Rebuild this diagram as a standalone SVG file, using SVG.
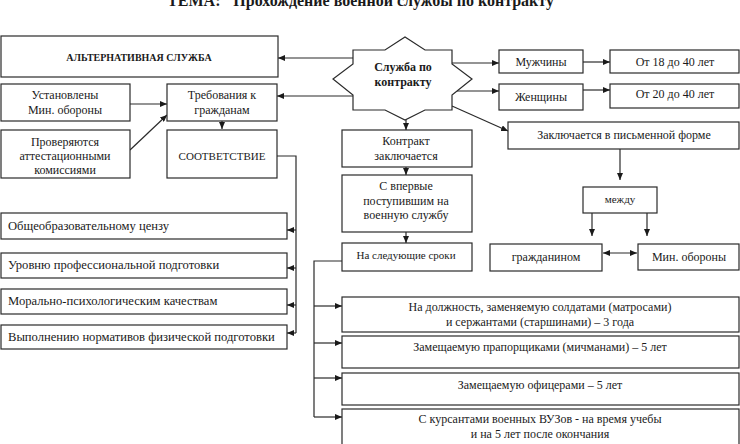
<svg xmlns="http://www.w3.org/2000/svg" width="740" height="444" viewBox="0 0 740 444">
<style>
.b{fill:#fff;stroke:#2a2a2a;stroke-width:1.2}
.t{font-family:"Liberation Serif","Times New Roman",serif;font-size:12px;fill:#1a1a1a;text-anchor:middle}
.l{text-anchor:start;font-size:12.6px}
.s{font-size:11px}
.bd{font-weight:bold}
.c{fill:none;stroke:#2a2a2a;stroke-width:1.2}
.a{marker-end:url(#ah)}
</style>
<defs>
<marker id="ah" markerWidth="7" markerHeight="6" refX="7" refY="3" orient="auto-start-reverse" markerUnits="userSpaceOnUse"><path d="M0,0 L7,3 L0,6 z" fill="#1a1a1a"/></marker>
</defs>
<rect width="740" height="444" fill="#fff"/>
<text x="365" y="6" class="t bd" style="font-size:16px">ТЕМА: "Прохождение военной службы по контракту"</text>

<g id="connectors">
<line class="c a" x1="353" y1="58" x2="278" y2="58"/>
<line class="c a" x1="353" y1="96" x2="277" y2="96"/>
<line class="c a" x1="130" y1="104" x2="167" y2="104"/>
<line class="c a" x1="130" y1="150" x2="167" y2="115"/>
<line class="c a" x1="222" y1="121" x2="222" y2="129"/>
<path class="c" d="M277,156 H296 V333"/>
<line class="c a" x1="296" y1="230" x2="287" y2="230"/>
<line class="c a" x1="296" y1="268" x2="287" y2="268"/>
<line class="c a" x1="296" y1="305" x2="287" y2="305"/>
<line class="c a" x1="296" y1="333" x2="287" y2="333"/>
<line class="c a" x1="452" y1="63" x2="499" y2="63"/>
<line class="c a" x1="457" y1="91" x2="499" y2="91"/>
<line class="c a" x1="583" y1="62" x2="610" y2="62"/>
<line class="c a" x1="583" y1="90" x2="610" y2="90"/>
<line class="c a" x1="452" y1="106" x2="508" y2="131"/>
<line class="c a" x1="406" y1="120" x2="406" y2="130"/>
<line class="c a" x1="406" y1="167" x2="406" y2="175"/>
<line class="c a" x1="406" y1="232" x2="406" y2="243"/>
<line class="c a" x1="620" y1="149" x2="620" y2="180"/>
<line class="c a" x1="592" y1="213" x2="592" y2="236"/>
<line class="c a" x1="647" y1="213" x2="647" y2="236"/>
<line class="c a" x1="603" y1="253" x2="637" y2="253" style="marker-start:url(#ah)"/>
<path class="c" d="M342,261 H314 V417"/>
<line class="c a" x1="314" y1="306" x2="342" y2="306"/>
<line class="c a" x1="314" y1="343" x2="342" y2="343"/>
<line class="c a" x1="314" y1="378" x2="342" y2="378"/>
<line class="c a" x1="314" y1="417" x2="342" y2="417"/>
</g>

<g id="star">
<polygon class="b" points="353,50 385,50 405,37 425,50 452,50 452,64 472,79 452,95 452,110 425,110 405,120 385,110 353,110 353,95 333,79 353,64"/>
<text x="403" y="71" class="t bd">Служба по</text>
<text x="403" y="86" class="t bd">контракту</text>
</g>

<g id="alt"><rect class="b" x="1" y="36" width="277" height="41"/><text x="139" y="61" class="t bd" style="font-size:10px">АЛЬТЕРНАТИВНАЯ СЛУЖБА</text></g>
<g id="ustanovleny"><rect class="b" x="1" y="84" width="129" height="37"/><text x="65" y="99" class="t">Установлены</text><text x="65" y="114" class="t">Мин. обороны</text></g>
<g id="trebovaniya"><rect class="b" x="167" y="84" width="110" height="37"/><text x="222" y="99" class="t">Требования к</text><text x="222" y="114" class="t">гражданам</text></g>
<g id="proveryayutsya"><rect class="b" x="1" y="130" width="129" height="48"/><text x="65" y="146" class="t">Проверяются</text><text x="65" y="160" class="t">аттестационными</text><text x="65" y="174" class="t">комиссиями</text></g>
<g id="sootvetstvie"><rect class="b" x="167" y="130" width="110" height="48"/><text x="222" y="160" class="t s">СООТВЕТСТВИЕ</text></g>

<g id="cenz"><rect class="b" x="1" y="213" width="286" height="26"/><text x="8" y="230" class="t l">Общеобразовательному цензу</text></g>
<g id="uroven"><rect class="b" x="1" y="253" width="286" height="25"/><text x="8" y="269" class="t l">Уровню профессиональной подготовки</text></g>
<g id="moral"><rect class="b" x="1" y="289" width="286" height="25"/><text x="8" y="305" class="t l">Морально-психологическим качествам</text></g>
<g id="fiz"><rect class="b" x="1" y="325" width="286" height="24"/><text x="8" y="341" class="t l">Выполнению нормативов физической подготовки</text></g>

<g id="muzh"><rect class="b" x="499" y="50" width="84" height="23"/><text x="541" y="66" class="t">Мужчины</text></g>
<g id="zhen"><rect class="b" x="499" y="84" width="84" height="26"/><text x="541" y="101" class="t">Женщины</text></g>
<g id="ot18"><rect class="b" x="610" y="50" width="129" height="23"/><text x="675" y="66" class="t">От 18 до 40 лет</text></g>
<g id="ot20"><rect class="b" x="610" y="84" width="129" height="24"/><text x="675" y="98" class="t">От 20 до 40 лет</text></g>
<g id="pismennoy"><rect class="b" x="508" y="122" width="231" height="27"/><text x="624" y="139" class="t">Заключается в письменной форме</text></g>
<g id="mezhdu"><rect class="b" x="583" y="187" width="74" height="26"/><text x="620" y="203" class="t s">между</text></g>
<g id="grazhd"><rect class="b" x="490" y="244" width="112" height="27"/><text x="546" y="261" class="t">гражданином</text></g>
<g id="minob"><rect class="b" x="638" y="244" width="101" height="26"/><text x="689" y="261" class="t">Мин. обороны</text></g>

<g id="kontrakt"><rect class="b" x="342" y="130" width="130" height="37"/><text x="406" y="145" class="t">Контракт</text><text x="406" y="160" class="t">заключается</text></g>
<g id="vpervye"><rect class="b" x="342" y="175" width="130" height="57"/><text x="406" y="190" class="t">С впервые</text><text x="406" y="205" class="t">поступившим на</text><text x="406" y="219" class="t">военную службу</text></g>
<g id="sleduyushchie"><rect class="b" x="342" y="243" width="130" height="28"/><text x="406" y="259" class="t s">На следующие сроки</text></g>

<g id="srok1"><rect class="b" x="342" y="297" width="397" height="35"/><text x="540" y="311" class="t">На должность, заменяемую солдатами (матросами)</text><text x="540" y="326" class="t">и сержантами (старшинами) – 3 года</text></g>
<g id="srok2"><rect class="b" x="342" y="336" width="397" height="32"/><text x="540" y="351" class="t">Замещаемую прапорщиками (мичманами) – 5 лет</text></g>
<g id="srok3"><rect class="b" x="342" y="373" width="397" height="32"/><text x="540" y="389" class="t">Замещаемую офицерами – 5 лет</text></g>
<g id="srok4"><rect class="b" x="342" y="409" width="397" height="40"/><text x="540" y="423" class="t">С курсантами военных ВУЗов - на время учебы</text><text x="540" y="438" class="t">и на 5 лет после окончания</text></g>
</svg>
